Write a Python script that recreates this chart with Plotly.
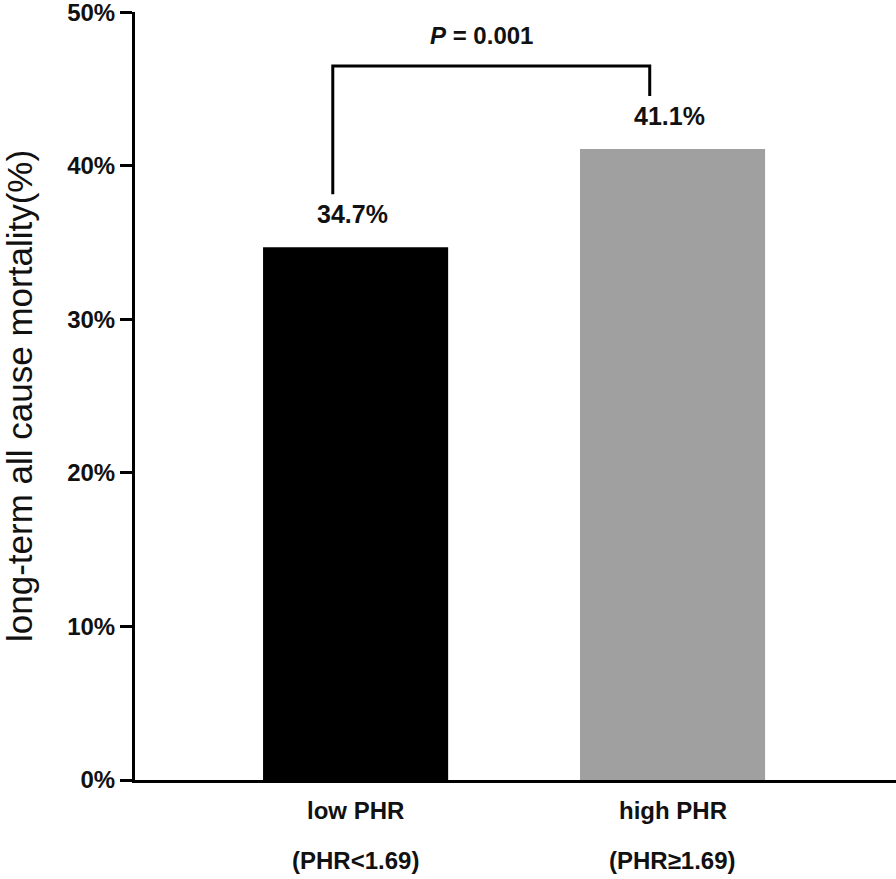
import plotly.graph_objects as go

# ---- data ----
groups = ["low PHR", "high PHR"]
thresholds = ["(PHR&lt;1.69)", "(PHR≥1.69)"]
mortality = [34.7, 41.1]
bar_colors = ["#000000", "#a0a0a0"]
y_ticks = [0, 10, 20, 30, 40, 50]
y_tick_labels = [f"{v}%" for v in y_ticks]
p_text = "<i>P</i> = 0.001"
y_title = "long-term all cause mortality(%)"

FONT = "Arial, Liberation Sans, sans-serif"
x_pos = list(range(len(groups)))

fig = go.Figure()
fig.add_trace(go.Bar(
    x=x_pos, y=mortality, width=0.584,
    marker=dict(color=bar_colors, line=dict(width=0)),
    showlegend=False, hoverinfo="skip",
))

# value labels above bars
for xi, v in zip(x_pos, mortality):
    fig.add_annotation(x=xi, y=v, xref="x", yref="y", text=f"<b>{v:.1f}%</b>",
                       showarrow=False, yanchor="middle", yshift=33, xshift=-3,
                       font=dict(family=FONT, size=25, color="#111"))

# category labels below axis
for xi, g, t in zip(x_pos, groups, thresholds):
    fig.add_annotation(x=xi, y=0, xref="x", yref="paper", text=f"<b>{g}</b>",
                       showarrow=False, yanchor="middle", yshift=-30,
                       font=dict(family=FONT, size=24, color="#111"))
    fig.add_annotation(x=xi, y=0, xref="x", yref="paper", text=f"<b>{t}</b>",
                       showarrow=False, yanchor="middle", yshift=-80,
                       font=dict(family=FONT, size=24, color="#111"))

# significance bracket
gap = 3.45
bracket_top = 46.5
xoff = -0.072
xl, xr = x_pos[0] + xoff, x_pos[1] + xoff
fig.add_shape(type="path", xref="x", yref="y",
              path=f"M {xl},{mortality[0] + gap} L {xl},{bracket_top} L {xr},{bracket_top} L {xr},{mortality[1] + gap}",
              line=dict(color="black", width=3))
fig.add_annotation(x=(xl + xr) / 2, y=bracket_top, xref="x", yref="y",
                   text=f"<b>{p_text}</b>", showarrow=False, yanchor="middle",
                   yshift=31, xshift=-10,
                   font=dict(family=FONT, size=24, color="#111"))

# y title
fig.add_annotation(x=0, y=0.5, xref="paper", yref="paper", text=y_title,
                   textangle=-90, showarrow=False, xanchor="center", yanchor="middle",
                   xshift=-116, font=dict(family=FONT, size=35, color="#111"))

fig.update_layout(
    width=896, height=879,
    margin=dict(l=135, r=0, t=12, b=99),
    plot_bgcolor="white", paper_bgcolor="white",
    font=dict(family=FONT, color="#111"),
    xaxis=dict(range=[-0.696, 1.705], showline=True, linewidth=3, linecolor="black",
               showticklabels=False, ticks="", showgrid=False, zeroline=False),
    yaxis=dict(range=[0, 50.02], tickmode="array", tickvals=y_ticks, ticktext=y_tick_labels,
               showline=True, linewidth=3, linecolor="black",
               ticks="outside", ticklen=12, tickwidth=3, tickcolor="black",
               ticklabeloverflow="allow",
               tickfont=dict(family=FONT, size=24, color="#111", weight="bold"),
               showgrid=False, zeroline=False),
)

fig.write_html("out.html", config={"displayModeBar": False},
               post_script="document.body.style.margin='0px';document.body.style.overflow='hidden';")
